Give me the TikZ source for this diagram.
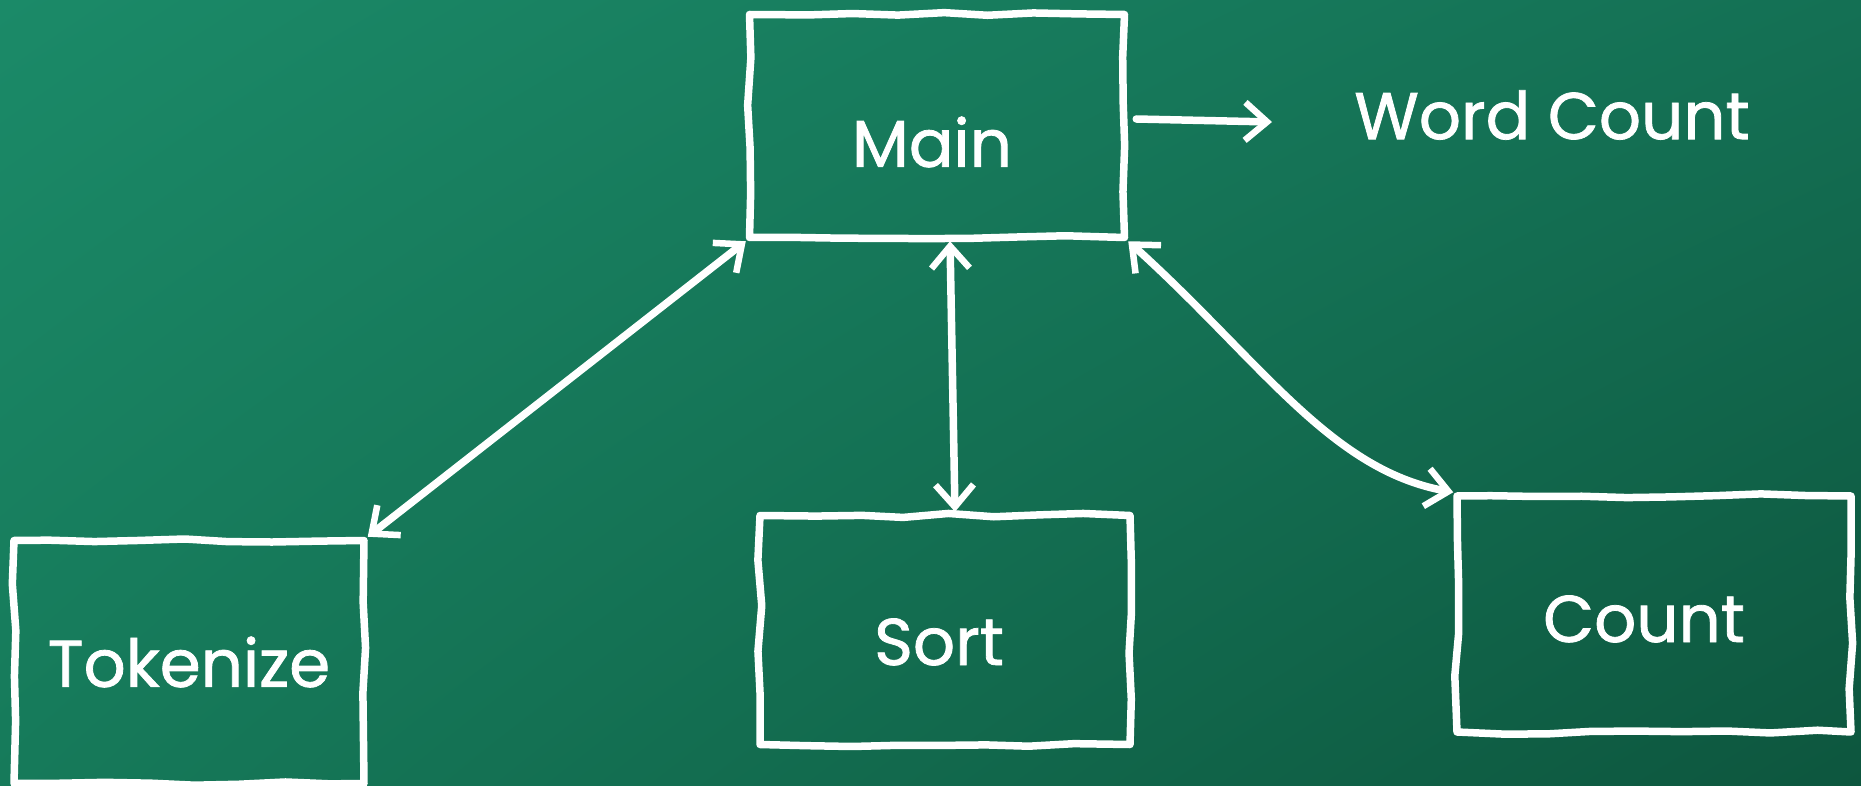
\documentclass[tikz,border=0pt]{standalone}
\usepackage{fontspec}
\setmainfont{Poppins}
\newfontfamily\chalkfont{Poppins}[FakeBold=1.2]
\usetikzlibrary{arrows.meta,decorations.pathmorphing,calc,shadings}
\definecolor{boardTL}{RGB}{27,138,104}
\definecolor{boardTR}{RGB}{20,112,84}
\definecolor{boardBL}{RGB}{22,122,90}
\definecolor{boardBR}{RGB}{13,86,62}
\begin{document}
\begin{tikzpicture}[x=1pt,y=-1pt,
  chalk/.style={draw=white, line width=7.5pt, line cap=round, line join=round},
  chalktip/.tip={Straight Barb[length=22pt,width=38pt,line width=6.5pt]},
  box/.style={chalk, rectangle, inner sep=0pt, decorate,
    decoration={random steps, segment length=45pt, amplitude=2.2pt}},
  chalktext/.style={text=white, font=\chalkfont\fontsize{66}{68}\selectfont, inner sep=0pt},
  link/.style={chalk, chalktip-chalktip},
  outarrow/.style={chalk, -chalktip}
]
\pgfmathsetseed{11}
% chalkboard
\useasboundingbox (0,0) rectangle (1861,786);
\shade[upper left=boardTL, upper right=boardTR, lower left=boardBL, lower right=boardBR]
  (0,0) rectangle (1861,786);

% boxes
\node[box, minimum width=375pt, minimum height=223pt] (Main) at (937,126) {};
\node[box, minimum width=350pt, minimum height=243pt] (Tokenize) at (189,662) {};
\node[box, minimum width=370pt, minimum height=229pt] (Sort) at (945,630) {};
\node[box, minimum width=394pt, minimum height=236pt] (Count) at (1654,614) {};

% box captions, written a little below the middle
\node[chalktext] (MainText) at ($(Main.center)+(-5,16)$) {Main};
\node[chalktext] (TokenizeText) at ($(Tokenize.center)+(0,0)$) {Tokenize};
\node[chalktext] (SortText) at ($(Sort.center)+(-6,12)$) {Sort};
\node[chalktext] (CountText) at ($(Count.center)+(-10,5)$) {Count};

% output
\node[chalktext] (WordCount) at (1552,115) {Word Count};
\coordinate (outTip) at (1272,122);
\draw[outarrow] ($(Main.east)+(8,-7)$) -- (outTip);

% calls
\draw[link] (Tokenize.north east) -- (Main.south west);
\draw[link] ($(Main.south)+(13,0)$) -- ($(Sort.north)+(10,0)$);
\draw[link] (Main.south east) .. controls (1260,360) and (1330,470) .. (Count.north west);
\end{tikzpicture}
\end{document}
